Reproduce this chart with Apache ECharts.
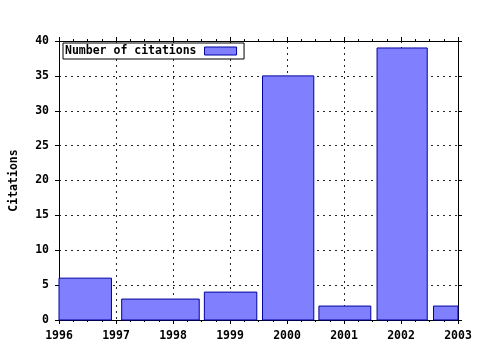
<!DOCTYPE html>
<html>
<head>
<meta charset="utf-8">
<script src="https://cdn.jsdelivr.net/npm/echarts@6/dist/echarts.min.js"></script>
<style>html,body{margin:0;padding:0;background:#fff}#c{width:480px;height:350px}</style>
</head>
<body>
<div id="c"></div>
<script>
const seriesName = 'Number of citations';
const yearMin = 1996, yearMax = 2003;
const barStart = [1995.5, 1997.10, 1998.55, 1999.57, 2000.56, 2001.58, 2002.57];
const barEnd   = [1996.92, 1998.46, 1999.47, 2000.47, 2001.47, 2002.46, 2003.47];
const citations = [6, 3, 4, 35, 2, 39, 2];

const FONT = 'DejaVu Sans Mono';
const labelStyle = {color: '#000', fontFamily: FONT, fontWeight: 'bold', fontSize: 11.5};
const dash = {color: '#000', width: 1, type: [2, 4], opacity: 0.85};

const data = barStart.map((s, i) => [s, barEnd[i], citations[i]]);

const chart = echarts.init(document.getElementById('c'), null, {renderer: 'canvas'});
chart.setOption({
  animation: false,
  backgroundColor: '#fff',
  grid: {left: 57, top: 41, right: 22, bottom: 30, show: false},
  legend: {
    left: 63, top: 43,
    padding: [2, 7, 2, 2],
    borderColor: '#000', borderWidth: 1, backgroundColor: '#fff',
    align: 'right',
    itemWidth: 32, itemHeight: 8, itemGap: 6,
    textStyle: Object.assign({padding: [0, 3, 0, 0]}, labelStyle),
    data: [{name: seriesName, icon: 'rect', itemStyle: {color: '#8080ff', borderColor: '#0000a0', borderWidth: 1}}]
  },
  xAxis: [{
    type: 'value', min: yearMin, max: yearMax, interval: 1,
    position: 'bottom',
    axisLine: {show: true, onZero: false, lineStyle: {color: '#000', width: 1}},
    axisTick: {show: true, inside: false, length: 4, lineStyle: {color: '#000'}},
    minorTick: {show: true, splitNumber: 4, length: 2, lineStyle: {color: '#000'}},
    axisLabel: Object.assign({margin: 10, formatter: v => String(v)}, labelStyle),
    splitLine: {show: true, lineStyle: dash}
  }, {
    type: 'value', min: yearMin, max: yearMax, interval: 1,
    position: 'top',
    axisLine: {show: true, onZero: false, lineStyle: {color: '#000', width: 1}},
    axisTick: {show: true, inside: false, length: 4, lineStyle: {color: '#000'}},
    minorTick: {show: true, splitNumber: 4, length: 2, lineStyle: {color: '#000'}},
    axisLabel: {show: false},
    splitLine: {show: false}
  }],
  yAxis: [{
    type: 'value', min: 0, max: 40, interval: 5,
    position: 'left',
    name: 'Citations', nameLocation: 'middle', nameGap: 39, nameRotate: 90,
    nameTextStyle: Object.assign({}, labelStyle),
    axisLine: {show: true, onZero: false, lineStyle: {color: '#000', width: 1}},
    axisTick: {show: true, inside: false, length: 4, lineStyle: {color: '#000'}},
    axisLabel: Object.assign({margin: 10}, labelStyle),
    splitLine: {show: true, lineStyle: dash}
  }, {
    type: 'value', min: 0, max: 40, interval: 5,
    position: 'right',
    axisLine: {show: true, onZero: false, lineStyle: {color: '#000', width: 1}},
    axisTick: {show: true, inside: false, length: 4, lineStyle: {color: '#000'}},
    axisLabel: {show: false},
    splitLine: {show: false}
  }],
  series: [{
    name: seriesName,
    type: 'custom',
    xAxisIndex: 0, yAxisIndex: 0,
    encode: {x: [0, 1], y: 2},
    itemStyle: {color: '#8080ff', borderColor: '#0000a0', borderWidth: 1},
    renderItem: function (params, api) {
      const p0 = api.coord([api.value(0), api.value(2)]);
      const p1 = api.coord([api.value(1), 0]);
      const shape = echarts.graphic.clipRectByRect(
        {x: p0[0], y: p0[1], width: p1[0] - p0[0], height: p1[1] - p0[1]},
        {x: params.coordSys.x, y: params.coordSys.y, width: params.coordSys.width, height: params.coordSys.height}
      );
      if (!shape) return;
      return {
        type: 'rect',
        shape: shape,
        style: {fill: '#8080ff', stroke: '#0000a0', lineWidth: 1}
      };
    },
    data: data,
    z: 3
  }]
});
</script>
</body>
</html>
